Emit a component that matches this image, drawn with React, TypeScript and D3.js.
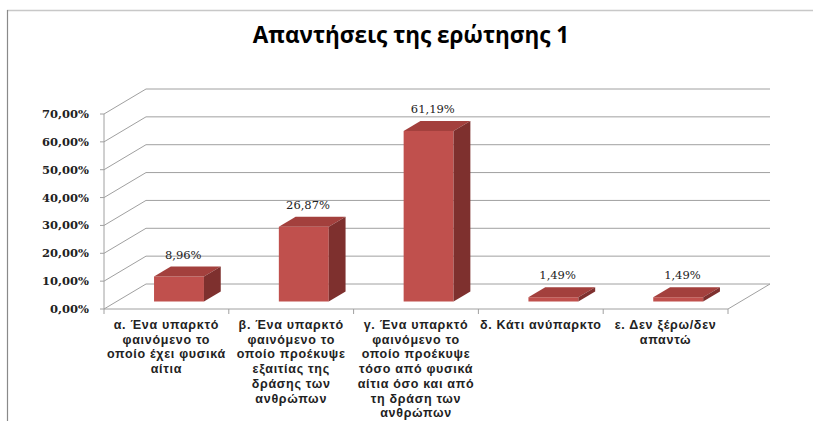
import React from "react";
import * as d3 from "d3";

const title = "Απαντήσεις της ερώτησης 1";
const categories = ["α", "β", "γ", "δ", "ε"];
const categoryLabels: string[][] = [
  ["α. Ένα υπαρκτό", "φαινόμενο το", "οποίο έχει φυσικά", "αίτια"],
  ["β. Ένα υπαρκτό", "φαινόμενο το", "οποίο προέκυψε", "εξαιτίας της", "δράσης των", "ανθρώπων"],
  ["γ. Ένα υπαρκτό", "φαινόμενο το", "οποίο προέκυψε", "τόσο από φυσικά", "αίτια όσο και από", "τη δράση των", "ανθρώπων"],
  ["δ. Κάτι ανύπαρκτο"],
  ["ε. Δεν ξέρω/δεν", "απαντώ"],
];
const values = [0.0896, 0.2687, 0.6119, 0.0149, 0.0149];
const yTicks = [0, 0.1, 0.2, 0.3, 0.4, 0.5, 0.6, 0.7];

const fmt = (v: number, digits: number) => (v * 100).toFixed(digits).replace(".", ",") + "%";

export default function App() {
  const W = 813, H = 421;
  const x0 = 104, x1 = 728;
  const yBase = 309, yTop = 114;
  const DX = 42, DY = -25; // depth vector
  const z0 = 0.3, z1 = 0.7;

  const x = d3.scaleBand<string>().domain(categories).range([x0, x1]);
  const xBar = d3.scaleBand<string>().domain(categories).range([x0, x1]).paddingInner(0.6).paddingOuter(0.3);
  const y = d3.scaleLinear().domain([0, 0.7]).range([yBase, yTop]);

  const gridColor = "#a0a0a0";
  const front = "#C0504D";
  const topC = "#A3403D";
  const side = "#7E302E";

  const pt = (sx: number, sy: number, z: number) => [sx + DX * z, sy + DY * z];
  const poly = (pts: number[][]) => pts.map((p) => p.join(",")).join(" ");

  return (
    <svg width={W} height={H} style={{ position: "absolute", left: 0, top: 0, background: "#fff" }}>
      <rect x={0} y={0} width={W} height={H} fill="#fff" />
      {/* outer frame lines */}
      <line x1={7} y1={10.5} x2={W} y2={10.5} stroke="#c8c8c8" strokeWidth={1.5} />
      <line x1={7.5} y1={10} x2={7.5} y2={H} stroke="#8a8a8a" strokeWidth={1.2} />

      <text x={411} y={34} textAnchor="middle" dominantBaseline="central" fontFamily="'Open Sans', sans-serif" fontWeight="bold" fontSize={22.5} fill="#000">
        {title}
      </text>

      {/* walls gridlines */}
      {yTicks.map((t) => {
        const [ax, ay] = pt(x0, y(t), 0);
        const [bx, by] = pt(x0, y(t), 1);
        const [cx, cy] = pt(x1, y(t), 1);
        return (
          <g key={t}>
            <line x1={ax} y1={ay} x2={bx} y2={by} stroke={gridColor} strokeWidth={1} />
            <line x1={bx} y1={by} x2={cx} y2={cy} stroke={gridColor} strokeWidth={1} />
            <line x1={ax - 4} y1={ay} x2={ax} y2={ay} stroke={gridColor} strokeWidth={1} />
            <text x={89} y={ay} textAnchor="end" dominantBaseline="central" fontFamily="'DejaVu Serif', serif" fontWeight="bold" fontSize={11.5} fill="#222">
              {fmt(t, 2)}
            </text>
          </g>
        );
      })}
      {/* left axis vertical */}
      <line x1={x0} y1={y(0.7)} x2={x0} y2={y(0)} stroke={gridColor} strokeWidth={1} />
      {/* floor */}
      <line x1={x0} y1={yBase} x2={x1} y2={yBase} stroke={gridColor} strokeWidth={1} />
      <line x1={x1} y1={yBase} x2={x1 + DX} y2={yBase + DY} stroke={gridColor} strokeWidth={1} />
      {categories.map((c) => (
        <line key={"tk" + c} x1={x(c)!} y1={yBase} x2={x(c)!} y2={yBase + 5} stroke={gridColor} strokeWidth={1} />
      ))}
      <line x1={x1} y1={yBase} x2={x1} y2={yBase + 5} stroke={gridColor} strokeWidth={1} />

      {/* bars */}
      {categories.map((c, i) => {
        const bx0 = xBar(c)!;
        const bx1 = bx0 + xBar.bandwidth();
        const yb = y(0);
        const yt = y(values[i]);
        const fA = pt(bx0, yb, z0), fB = pt(bx1, yb, z0), fC = pt(bx1, yt, z0), fD = pt(bx0, yt, z0);
        const bB = pt(bx1, yb, z1), bC = pt(bx1, yt, z1), bD = pt(bx0, yt, z1);
        const [lx] = pt((bx0 + bx1) / 2, yt, 0.4);
        const [, ly2] = pt(0, yt, z1);
        return (
          <g key={"bar" + c}>
            <polygon points={poly([fA, fB, fC, fD])} fill={front} />
            <polygon points={poly([fD, fC, bC, bD])} fill={topC} />
            <polygon points={poly([fB, bB, bC, fC])} fill={side} />
            <text x={lx} y={ly2 - 12} textAnchor="middle" dominantBaseline="central" fontFamily="'DejaVu Serif', serif" fontSize={11.5} fill="#222">
              {fmt(values[i], 2)}
            </text>
          </g>
        );
      })}

      {/* category labels */}
      {categories.map((c, i) => (
        <text key={"cl" + c} textAnchor="middle" fontFamily="'Liberation Sans', sans-serif" fontWeight="bold" fontSize={12.5} fill="#222" letterSpacing={0.7}>
          {categoryLabels[i].map((l, j) => (
            <tspan key={j} x={x(c)! + x.bandwidth() / 2} y={325 + j * 14.7} dominantBaseline="central">
              {l}
            </tspan>
          ))}
        </text>
      ))}
    </svg>
  );
}
